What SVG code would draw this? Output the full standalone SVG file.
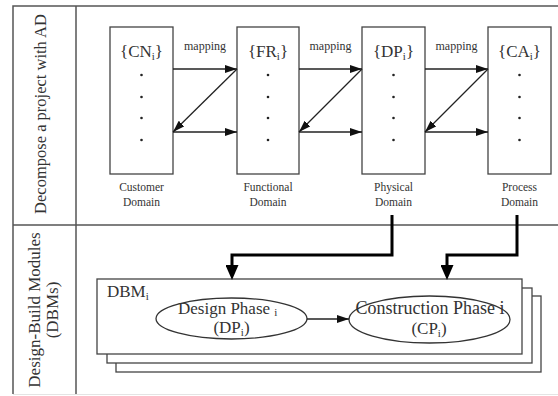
<svg xmlns="http://www.w3.org/2000/svg" width="558" height="396" viewBox="0 0 558 396">
<style>
text{font-family:"Liberation Serif","Times New Roman",serif;fill:#333}
.frame{stroke:#555;stroke-width:1.5;fill:none}
.box{fill:#fff;stroke:#444;stroke-width:1.3}
.thin{stroke:#222;stroke-width:1.3;fill:none}
.thick{stroke:#000;stroke-width:3;fill:none}
.t17{font-size:17px}
.map{font-size:12px}
.dom{font-size:11.5px;text-anchor:middle}
.dot{fill:#222}
</style>
<defs>
<marker id="ah" markerUnits="userSpaceOnUse" markerWidth="12" markerHeight="8" refX="12" refY="4" orient="auto"><path d="M0,0 L12,4 L0,8 z" fill="#111"/></marker>
<marker id="ahT" markerUnits="userSpaceOnUse" markerWidth="15" markerHeight="13" refX="0" refY="6.5" orient="auto"><path d="M0,0 L15,6.5 L0,13 z" fill="#000"/></marker>
</defs>
<rect width="558" height="396" fill="#fff"/>
<g id="frame">
<path class="frame" d="M558,6 H13 V394 M76,6 V394 M13,225 H558"/>
<path d="M13,394.5 H558" stroke="#e4e4e4" stroke-width="1"/>
<text transform="translate(46,114) rotate(-90)" text-anchor="middle" style="font-size:16.5px">Decompose a project with AD</text>
<text class="t17" transform="translate(40,310) rotate(-90)" text-anchor="middle">Design-Build Modules</text>
<text class="t17" transform="translate(58,310) rotate(-90)" text-anchor="middle">(DBMs)</text>
</g>
<g id="CN">
<rect class="box" x="110" y="27" width="63" height="147"/>
<text class="t17" x="141.5" y="57" text-anchor="middle">{CN<tspan font-size="11" dy="3">i</tspan><tspan dy="-3">}</tspan></text>
<circle class="dot" cx="141.5" cy="75" r="1.3"/><circle class="dot" cx="141.5" cy="97" r="1.3"/><circle class="dot" cx="141.5" cy="118" r="1.3"/><circle class="dot" cx="141.5" cy="140" r="1.3"/>
<text class="dom" x="141.5" y="191">Customer</text><text class="dom" x="141.5" y="206">Domain</text>
</g>
<g id="FR">
<rect class="box" x="237" y="27" width="62" height="147"/>
<text class="t17" x="268" y="57" text-anchor="middle">{FR<tspan font-size="11" dy="3">i</tspan><tspan dy="-3">}</tspan></text>
<circle class="dot" cx="268" cy="75" r="1.3"/><circle class="dot" cx="268" cy="97" r="1.3"/><circle class="dot" cx="268" cy="118" r="1.3"/><circle class="dot" cx="268" cy="140" r="1.3"/>
<text class="dom" x="268" y="191">Functional</text><text class="dom" x="268" y="206">Domain</text>
</g>
<g id="DP">
<rect class="box" x="362" y="27" width="63" height="147"/>
<text class="t17" x="393.5" y="57" text-anchor="middle">{DP<tspan font-size="11" dy="3">i</tspan><tspan dy="-3">}</tspan></text>
<circle class="dot" cx="393.5" cy="75" r="1.3"/><circle class="dot" cx="393.5" cy="97" r="1.3"/><circle class="dot" cx="393.5" cy="118" r="1.3"/><circle class="dot" cx="393.5" cy="140" r="1.3"/>
<text class="dom" x="393.5" y="191">Physical</text><text class="dom" x="393.5" y="206">Domain</text>
</g>
<g id="CA">
<rect class="box" x="488" y="27" width="63" height="147"/>
<text class="t17" x="519.5" y="57" text-anchor="middle">{CA<tspan font-size="11" dy="3">i</tspan><tspan dy="-3">}</tspan></text>
<circle class="dot" cx="519.5" cy="75" r="1.3"/><circle class="dot" cx="519.5" cy="97" r="1.3"/><circle class="dot" cx="519.5" cy="118" r="1.3"/><circle class="dot" cx="519.5" cy="140" r="1.3"/>
<text class="dom" x="519.5" y="191">Process</text><text class="dom" x="519.5" y="206">Domain</text>
</g>
<g id="DBM">
<rect class="box" x="116" y="296" width="425" height="76"/>
<rect class="box" x="107" y="288" width="425" height="75"/>
<rect class="box" x="97" y="279" width="425" height="75"/>
<text class="t17" x="107" y="297">DBM<tspan font-size="11" dy="3">i</tspan></text>
</g>
<g id="DesignPhase">
<ellipse cx="231.5" cy="318.5" rx="75.5" ry="20.5" fill="none" stroke="#333" stroke-width="1.3"/>
<text class="t17" x="178" y="314">Design Phase <tspan font-size="11" dy="2">i</tspan></text>
<text class="t17" x="231.5" y="333" text-anchor="middle">(DP<tspan font-size="11" dy="3">i</tspan><tspan dy="-3">)</tspan></text>
</g>
<g id="ConstructionPhase">
<ellipse cx="429.5" cy="319.5" rx="80.5" ry="23.5" fill="none" stroke="#333" stroke-width="1.3"/>
<text x="430" y="314" text-anchor="middle" style="font-size:18px">Construction Phase i</text>
<text class="t17" x="429" y="334" text-anchor="middle">(CP<tspan font-size="11" dy="3">i</tspan><tspan dy="-3">)</tspan></text>
</g>
<g id="connectors">
<path class="thin" d="M173,69 H237" marker-end="url(#ah)"/>
<path class="thin" d="M299,69 H362" marker-end="url(#ah)"/>
<path class="thin" d="M425,69 H488" marker-end="url(#ah)"/>
<path class="thin" d="M173,132 H237" marker-end="url(#ah)"/>
<path class="thin" d="M299,132 H362" marker-end="url(#ah)"/>
<path class="thin" d="M425,132 H488" marker-end="url(#ah)"/>
<path class="thin" d="M237,69 L173,132" marker-end="url(#ah)"/>
<path class="thin" d="M362,69 L299,132" marker-end="url(#ah)"/>
<path class="thin" d="M488,69 L425,132" marker-end="url(#ah)"/>
<text class="map" x="205" y="50" text-anchor="middle">mapping</text>
<text class="map" x="330.5" y="50" text-anchor="middle">mapping</text>
<text class="map" x="456.5" y="50" text-anchor="middle">mapping</text>
<path class="thick" d="M392,215 V255 H232 V265" marker-end="url(#ahT)"/>
<path class="thick" d="M517,215 V255 H447 V265" marker-end="url(#ahT)"/>
<path class="thin" d="M307,319 H349" marker-end="url(#ah)"/>
</g>
</svg>
